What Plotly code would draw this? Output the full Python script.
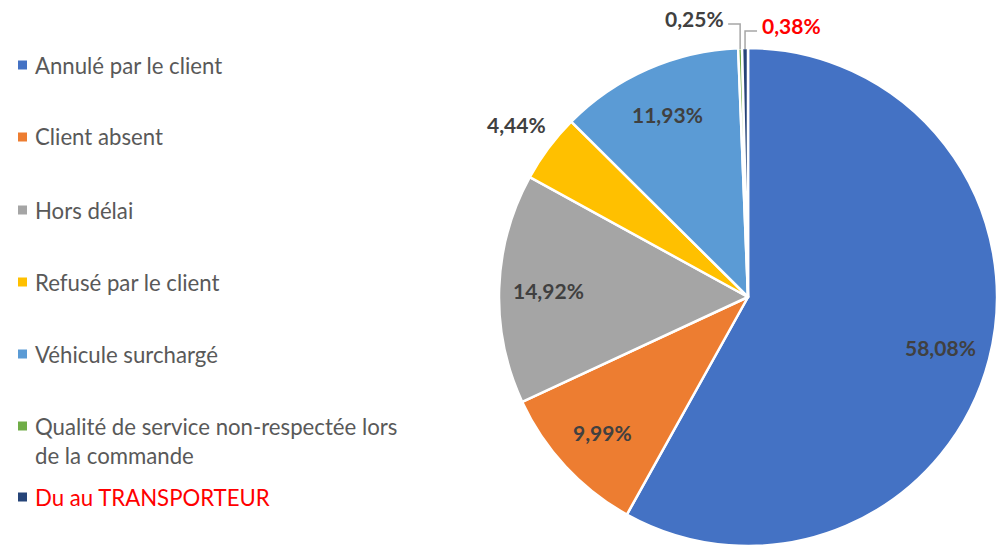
import math
import plotly.graph_objects as go

categories = [
    "Annulé par le client",
    "Client absent",
    "Hors délai",
    "Refusé par le client",
    "Véhicule surchargé",
    "Qualité de service non-respectée lors de la commande",
    "Du au TRANSPORTEUR",
]
legend_labels = [
    "Annulé par le client",
    "Client absent",
    "Hors délai",
    "Refusé par le client",
    "Véhicule surchargé",
    "Qualité de service non-respectée lors<br>de la commande",
    "Du au TRANSPORTEUR",
]
values = [58.08, 9.99, 14.92, 4.44, 11.93, 0.25, 0.38]
colors = ["#4472C4", "#ED7D31", "#A5A5A5", "#FFC000", "#5B9BD5", "#70AD47", "#264478"]
label_colors = ["#404040"] * 6 + ["#FF0000"]
legend_text_colors = ["#595959"] * 6 + ["#FF0000"]
label_modes = ["inside", "inside", "inside", "outside", "inside", "leader_left", "leader_right"]

W, H = 997, 547
FONT = "Lato"
# pie geometry in pixels
CX, CY, R = 748, 297, 249


def fmt(v):
    return f"{v:.2f}".replace(".", ",") + "%"


fig = go.Figure()
fig.add_trace(go.Pie(
    labels=categories,
    values=values,
    sort=False,
    direction="clockwise",
    rotation=0,
    marker=dict(colors=colors, line=dict(color="white", width=2.5)),
    textinfo="none",
    showlegend=False,
    domain=dict(x=[(CX - R) / W, (CX + R) / W], y=[1 - (CY + R) / H, 1 - (CY - R) / H]),
    hoverinfo="label+percent",
))


def px(x, y):
    return x / W, 1 - y / H


# data labels placed at the slice mid-angles
total = sum(values)
cum = 0.0
for v, mode, col in zip(values, label_modes, label_colors):
    mid = (cum + v / 2) / total * 2 * math.pi
    cum += v
    s, c = math.sin(mid), math.cos(mid)
    font = dict(family=FONT, size=21, color=col, weight="bold")
    if mode in ("inside", "outside"):
        rr = 0.8 * R if mode == "inside" else 1.16 * R
        x, y = px(CX + rr * s, CY - rr * c)
        fig.add_annotation(xref="paper", yref="paper", x=x, y=y, text=fmt(v),
                           showarrow=False, font=font, xanchor="center", yanchor="middle")
    else:
        ex, ey = CX + (R - 1) * s, CY - (R - 1) * c
        ly = 24 if mode == "leader_left" else 31
        hx = ex - 12 if mode == "leader_left" else ex + 12
        x0, y0 = px(ex, ey)
        x1, y1 = px(ex, ly)
        x2, y2 = px(hx, ly)
        fig.add_shape(type="path", xref="paper", yref="paper",
                      path=f"M {x0} {y0} L {x1} {y1} L {x2} {y2}",
                      line=dict(color="#A6A6A6", width=1.5))
        tx, ty = px(hx + (-2 if mode == "leader_left" else 3), ly - 5)
        fig.add_annotation(xref="paper", yref="paper", x=tx, y=ty, text=fmt(v),
                           showarrow=False, font=font,
                           xanchor="right" if mode == "leader_left" else "left",
                           yanchor="middle")

# legend built on the left
legend_y = [65, 137, 210, 282, 354, 426, 497]
for i, (lab, col, tcol) in enumerate(zip(legend_labels, colors, legend_text_colors)):
    yc = legend_y[i]
    fig.add_shape(type="rect", xref="paper", yref="paper",
                  x0=18 / W, x1=27 / W, y0=1 - (yc + 4.5) / H, y1=1 - (yc - 4.5) / H,
                  fillcolor=col, line=dict(width=0))
    two = "<br>" in lab
    fig.add_annotation(
        xref="paper", yref="paper", x=33 / W,
        y=1 - (yc - 15) / H if two else 1 - yc / H,
        xanchor="left", yanchor="top" if two else "middle",
        text=lab, showarrow=False, align="left",
        font=dict(family=FONT, size=22.2, color=tcol),
    )

fig.update_layout(
    width=W, height=H,
    margin=dict(l=0, r=0, t=0, b=0),
    paper_bgcolor="white", plot_bgcolor="white",
)
fig.write_html("out.html", config={"displayModeBar": False},
               post_script="document.body.style.margin='0';")
